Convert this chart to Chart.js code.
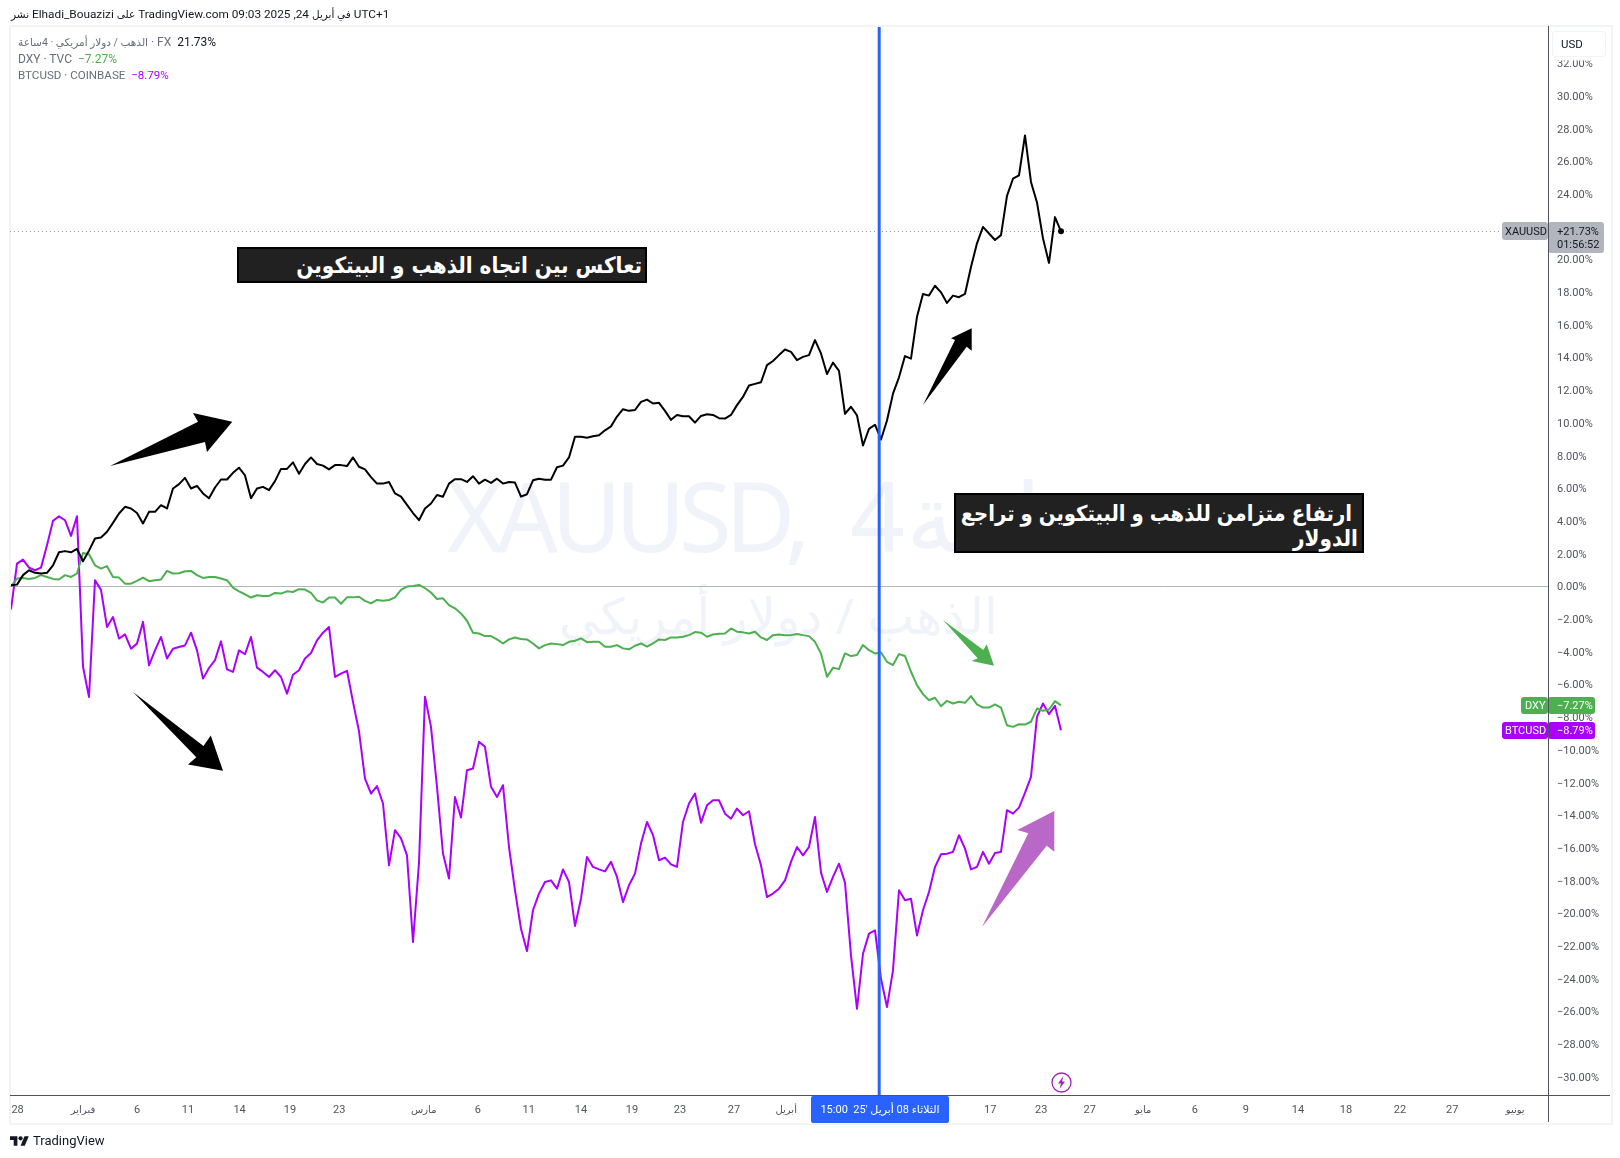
<!DOCTYPE html>
<html lang="ar">
<head>
<meta charset="utf-8">
<title>XAUUSD DXY BTCUSD</title>
<script src="https://cdn.jsdelivr.net/npm/chart.js@4/dist/chart.umd.min.js"></script>
<style>
html,body{margin:0;padding:0;background:#fff;width:1620px;height:1158px;overflow:hidden}
body{font-family:Roboto,"DejaVu Sans",sans-serif}
#wrap{position:relative;width:1620px;height:1158px}
#panel{position:absolute;left:9px;top:25px;width:1600px;height:1096px;border:2px solid #f2f3f5;box-sizing:content-box}
canvas{position:absolute;left:0;top:0}
.t{position:absolute;white-space:pre;line-height:1}
.ar{font-size:10.5px}
.box{position:absolute;background:#212121;border:2px solid #000;box-sizing:border-box;color:#fff;font:bold 22.3px "DejaVu Sans Condensed","DejaVu Sans",sans-serif;direction:rtl;text-align:right;white-space:pre}
</style>
</head>
<body>
<div id="wrap">
<div id="panel"></div>
<canvas id="c" width="1620" height="1158"></canvas>

<div class="t" style="left:11px;top:9px;font-size:11.8px;color:#131722"><span class="ar">نشر</span> Elhadi_Bouazizi <span class="ar">على</span> TradingView.com 09:03 2025 ,24 <span class="ar">في أبريل</span> UTC+1</div>

<div class="t" style="left:18px;top:36px;font-size:12px;color:#6a6d78"><span class="ar">الذهب / دولار أمريكي · 4ساعة</span> · FX  <span style="color:#131722">21.73%</span></div>
<div class="t" style="left:18px;top:53px;font-size:12px;color:#6a6d78">DXY · TVC  <span style="color:#4caf50">−7.27%</span></div>
<div class="t" style="left:18px;top:70px;font-size:11.6px;color:#6a6d78">BTCUSD · COINBASE  <span style="color:#aa00ff">−8.79%</span></div>

<div class="box" style="left:237px;top:247px;width:410px;height:36px;line-height:33px;padding-right:3px">تعاكس بين اتجاه الذهب و البيتكوين</div>
<div class="box" style="left:954px;top:493px;width:410px;height:60px;line-height:25px;padding:6px 4px 0 0"><span style="font-size:21.8px;word-spacing:-0.8px">&nbsp;ارتفاع متزامن للذهب و البيتكوين و تراجع</span>
الدولار</div>

<svg style="position:absolute;left:10px;top:1134px" width="19" height="15" viewBox="0 0 36 28"><path fill="#131722" d="M14 22H7V11H0V4h14v18zM28 22h-8l7.5-18h8L28 22z"/><circle fill="#131722" cx="20" cy="8" r="4"/></svg>
<div class="t" style="left:33px;top:1134px;font-size:13px;color:#131722">TradingView</div>
</div>
<script>
const gold = [0.08,0.12,0.7,1.0,0.84,0.8,0.84,1.3,2.1,2.17,2.1,2.3,1.55,2.2,2.94,3.0,3.35,3.9,4.47,4.88,4.78,4.5,3.86,4.57,4.57,4.98,4.78,6.0,6.27,6.65,6.0,6.16,5.7,5.4,6.06,6.55,6.55,6.96,7.27,6.8,5.4,6.0,6.1,5.9,6.45,7.2,7.2,7.6,6.9,7.5,7.9,7.5,7.4,7.17,7.43,7.43,7.37,7.9,7.33,7.17,6.7,6.3,6.3,6.4,5.7,5.5,5.0,4.5,4.06,4.78,5.08,5.6,5.5,6.3,6.57,6.57,6.4,6.75,6.3,6.54,6.34,6.6,6.3,6.4,6.36,5.5,5.65,6.5,6.6,6.54,6.54,7.3,7.4,7.9,9.16,9.16,9.1,9.2,9.26,9.56,9.8,10.4,10.85,10.75,10.8,11.3,11.44,11.2,11.24,10.75,10.2,10.5,10.42,10.42,10.03,10.44,10.54,10.5,10.3,10.28,10.5,11.1,11.6,12.3,12.4,12.5,13.55,13.8,14.16,14.5,14.36,13.85,14.05,14.16,15.08,14.26,13.0,13.7,13.2,10.57,11.0,10.47,8.63,9.65,9.9,9.0,10.16,11.8,12.8,14.1,13.94,16.5,17.9,17.8,18.4,18.0,17.35,17.8,17.7,17.9,19.55,21.0,22.0,21.6,21.2,21.5,23.9,24.95,25.16,27.6,24.75,23.5,21.3,19.8,22.6,21.73];
const dxy = [0.02,0.49,0.53,0.47,0.53,0.7,0.59,0.47,0.43,0.7,0.59,0.8,2.06,1.98,1.3,1.1,1.25,0.59,0.55,0.18,0.18,0.35,0.55,0.33,0.39,0.43,0.96,0.8,0.82,0.94,0.96,0.7,0.53,0.59,0.59,0.49,0.39,-0.06,-0.29,-0.47,-0.67,-0.53,-0.57,-0.57,-0.39,-0.43,-0.29,-0.33,-0.16,-0.18,-0.39,-0.84,-0.98,-0.67,-0.67,-1.05,-0.66,-0.66,-0.62,-0.87,-1.03,-0.82,-0.87,-0.82,-0.66,-0.2,0.0,0.03,0.1,-0.1,-0.36,-0.76,-0.72,-1.13,-1.33,-1.64,-2.09,-2.82,-2.87,-3.03,-3.03,-3.23,-3.48,-3.23,-3.11,-3.21,-3.23,-3.48,-3.78,-3.58,-3.48,-3.52,-3.58,-3.38,-3.31,-3.17,-3.4,-3.38,-3.38,-3.68,-3.68,-3.58,-3.78,-3.84,-3.62,-3.48,-3.68,-3.48,-3.23,-3.27,-3.11,-3.11,-3.07,-2.97,-2.78,-2.82,-3.07,-2.93,-2.89,-2.87,-2.56,-2.76,-2.8,-2.87,-2.76,-3.11,-3.27,-2.97,-2.93,-2.97,-2.97,-2.9,-2.97,-3.03,-3.38,-4.09,-5.52,-4.97,-5.05,-4.09,-4.25,-4.19,-3.58,-3.89,-4.09,-4.03,-4.6,-4.8,-4.13,-4.25,-5.21,-6.03,-6.58,-6.95,-6.8,-7.32,-6.99,-7.15,-7.05,-7.11,-6.7,-7.21,-7.4,-7.4,-7.21,-7.4,-8.48,-8.58,-8.42,-8.44,-8.27,-7.46,-7.6,-7.52,-7.01,-7.27];
const btc = [-1.4,1.4,1.65,1.16,1.0,1.16,2.53,4.02,4.3,4.06,3.1,4.3,-4.9,-6.76,0.39,-0.2,-2.47,-1.86,-3.18,-2.92,-3.8,-3.49,-2.16,-4.82,-3.9,-3.08,-4.4,-3.8,-3.7,-3.6,-2.82,-3.9,-5.63,-4.98,-4.5,-3.35,-5.06,-5.22,-3.9,-4.14,-3.08,-4.96,-5.22,-5.53,-5.12,-5.53,-6.55,-5.39,-5.12,-4.4,-4.06,-3.29,-2.82,-2.47,-5.53,-5.33,-5.15,-7.05,-8.85,-11.74,-12.66,-12.2,-13.27,-17.05,-14.9,-15.4,-16.44,-21.74,-16.9,-6.74,-8.58,-12.25,-16.33,-17.86,-12.87,-14.13,-11.23,-11.13,-9.5,-9.8,-12.25,-12.87,-12.15,-15.93,-18.58,-20.93,-22.3,-19.8,-18.78,-18.07,-17.97,-18.48,-17.3,-18.07,-20.76,-19.09,-16.54,-17.15,-17.3,-17.42,-16.84,-17.76,-19.3,-18.27,-17.56,-15.72,-14.4,-15.2,-16.74,-16.58,-16.99,-17.15,-14.4,-13.27,-12.66,-14.44,-13.38,-13.07,-13.07,-13.89,-14.2,-13.58,-13.99,-13.74,-15.76,-17.05,-18.99,-18.78,-18.48,-17.97,-16.84,-15.93,-16.44,-15.93,-14.09,-17.5,-18.68,-17.76,-16.95,-18.11,-22.56,-25.83,-22.46,-21.23,-21.03,-23.99,-25.72,-23.48,-18.58,-19.19,-19.09,-21.34,-19.8,-18.68,-17.15,-16.38,-16.34,-16.23,-15.21,-16.03,-17.3,-17.15,-16.23,-16.95,-16.3,-16.23,-13.68,-13.89,-13.52,-12.62,-11.64,-7.97,-7.15,-7.8,-7.3,-8.79];
const yTicks = [32,30,28,26,24,22,20,18,16,14,12,10,8,6,4,2,0,-2,-4,-6,-8,-10,-12,-14,-16,-18,-20,-22,-24,-26,-28,-30];
const xTickBars = [1.1,12,21,29.5,38.1,46.5,54.7,68.8,77.8,86.3,95,103.5,111.5,120.5,129.2,163.2,171.7,179.8,188.7,197.3,205.8,214.5,222.5,231.5,240.2,250.7];
const xTickLabels = ["28","فبراير","6","11","14","19","23","مارس","6","11","14","19","23","27","أبريل","17","23","27","مايو","6","9","14","18","22","27","يونيو"];
const crosshairBar = 144.7;
const crosshairLabel = "الثلاثاء 08 أبريل '25  15:00";
const seriesColors = {gold:"#000000", dxy:"#4caf50", btc:"#aa00ff"};
const lastGold = 21.73, lastDxy = -7.27, lastBtc = -8.79;

const pts = a => a.map((v,i)=>({x:i,y:v}));

function rr(ctx,x,y,w,h,r,fill){ctx.beginPath();ctx.roundRect(x,y,w,h,r);ctx.fillStyle=fill;ctx.fill();}
function poly(ctx,p,fill){ctx.beginPath();p.forEach((q,i)=>i?ctx.lineTo(q[0],q[1]):ctx.moveTo(q[0],q[1]));ctx.closePath();ctx.fillStyle=fill;ctx.fill();}

const under = {id:'under',
 beforeDraw(ch){ ch.scales.y.getLabelItems(ch.chartArea).forEach(it=>{it.textOffset+=1;}); },
 beforeDatasetsDraw(ch){
  const c=ch.ctx,a=ch.chartArea,y=ch.scales.y;
  c.save();
  c.fillStyle='#f0f3fa';c.textBaseline='alphabetic';
  c.textAlign='left';
  c.font='96px "Noto Sans","DejaVu Sans",sans-serif';
  c.letterSpacing='-6.5px';
  c.fillText('XAUUSD,',447,552);
  c.letterSpacing='0px';
  c.fillText('4',850,552);
  c.fillText('ساعة',906,552);
  c.textAlign='center';
  c.font='50px "Noto Sans","DejaVu Sans",sans-serif';
  c.fillText('الذهب / دولار أمريكي',(a.left+a.right)/2-1,634);
  const y0=Math.floor(y.getPixelForValue(0))+.5;
  c.strokeStyle='#b2b5be';c.lineWidth=1;c.beginPath();c.moveTo(a.left-1,y0);c.lineTo(a.right,y0);c.stroke();
  const yl=Math.floor(y.getPixelForValue(lastGold))+.5;
  c.strokeStyle='#9598a1';c.setLineDash([1,3]);c.beginPath();c.moveTo(a.left-1,yl);c.lineTo(a.right,yl);c.stroke();
  c.restore();
}};

const over = {id:'over',afterDraw(ch){
  const c=ch.ctx,a=ch.chartArea,x=ch.scales.x,y=ch.scales.y;
  c.save();
  // annotation arrows
  poly(c,[[110,466],[198,421.7],[193,413],[232.3,421.7],[207,452],[205,442]],'#000');
  poly(c,[[923,405],[955,340],[951,338.3],[971.7,328.3],[971.7,350.7],[966.7,346.7]],'#000');
  poly(c,[[133,692],[203.5,746],[210.8,735.6],[223,770.8],[188,764.6],[196.3,757.3]],'#000');
  poly(c,[[943,620],[983.3,650],[986.7,644.3],[994,665.7],[971.7,661],[977.7,658.3]],'#4caf50');
  poly(c,[[982,927],[1028.3,833.3],[1017.3,830],[1054.3,811],[1054.3,851.7],[1046.7,845.7]],'#ba68c8');
  // last point of main series
  c.fillStyle='#000';c.beginPath();c.arc(x.getPixelForValue(gold.length-1),y.getPixelForValue(lastGold),3,0,7);c.fill();
  // crosshair
  const bx=x.getPixelForValue(crosshairBar);
  c.fillStyle='#2962ff';c.fillRect(bx-1.5,a.top,3,a.bottom-a.top);
  // axis lines
  c.fillStyle='#50535e';
  c.fillRect(a.left-1,a.bottom,1600,1);
  c.fillRect(a.right,a.top-1,1,1096);
  // USD button
  c.fillStyle='#fff';c.fillRect(1550,28,59,32.5);
  rr(c,1552,31,54,26,4,'#f0f3fa');rr(c,1553,32,52,24,3,'#fff');
  c.fillStyle='#131722';c.font='11.5px Roboto,sans-serif';c.textAlign='left';c.textBaseline='middle';c.fillText('USD',1561,45);
  // price tags
  const tag=(x0,y0,w,h,col)=>rr(c,x0,y0,w,h,3,col);
  tag(1502,222,46,18,'#b2b5be');tag(1548,222,56,31,'#b2b5be');
  tag(1521,697,27,17,'#4caf50');tag(1548,697,47,17,'#4caf50');
  tag(1502,722,46,17,'#aa00ff');tag(1548,722,47,17,'#aa00ff');
  c.fillStyle='#50535e';c.fillRect(a.right,221,1,33);c.fillRect(a.right,696,1,44);
  c.font='11px Roboto,sans-serif';c.textAlign='left';c.textBaseline='middle';
  c.fillStyle='#131722';c.fillText('XAUUSD',1505,232);c.fillText('+21.73%',1557,232);c.fillText('01:56:52',1557,245);
  c.fillStyle='#fff';c.fillText('DXY',1525,706);c.fillText('−7.27%',1557,706);
  c.fillText('BTCUSD',1505,731);c.fillText('−8.79%',1557,731);
  // crosshair time label
  rr(c,811,1096,138,27,2,'#2962ff');
  c.fillStyle='#fff';c.font='11px Roboto,"DejaVu Sans",sans-serif';c.textAlign='center';c.direction='rtl';
  c.fillText(crosshairLabel,880,1110);c.direction='ltr';
  // lightning badge
  c.strokeStyle='#9c27b0';c.lineWidth=1.3;c.beginPath();c.arc(1061.5,1082.5,9.5,0,7);c.stroke();
  poly(c,[[1063.5,1076],[1058,1083.5],[1061,1083.5],[1059.5,1089],[1065,1081.5],[1062,1081.5]],'#9c27b0');
  c.restore();
}};

const lineStyle = {borderWidth:2,pointRadius:0,tension:0,borderJoinStyle:'round'};
new Chart(document.getElementById('c'),{
  type:'line',
  data:{datasets:[
    {label:'XAUUSD',data:pts(gold),borderColor:seriesColors.gold,...lineStyle},
    {label:'DXY',data:pts(dxy),borderColor:seriesColors.dxy,...lineStyle},
    {label:'BTCUSD',data:pts(btc),borderColor:seriesColors.btc,...lineStyle}
  ]},
  plugins:[under,over],
  options:{
    responsive:false,animation:false,devicePixelRatio:1,
    layout:{padding:{left:11,top:27,right:0,bottom:0}},
    plugins:{legend:{display:false},tooltip:{enabled:false}},
    scales:{
      x:{type:'linear',min:0,max:256.17,
        grid:{display:false},border:{display:false},
        afterFit(s){s.height=63;},
        afterBuildTicks(s){s.ticks=xTickBars.map(v=>({value:v}));},
        ticks:{autoSkip:false,maxRotation:0,padding:1,color:'#50535e',
          font:ctx=>({family:'Roboto,"DejaVu Sans",sans-serif',size:/[0-9]/.test(xTickLabels[ctx.index]||'0')?11:10}),
          callback:(v,i)=>xTickLabels[i]}},
      y:{type:'linear',position:'right',min:-31.1,max:34.23,
        grid:{display:false},border:{display:false},
        afterFit(s){s.width=72;},
        afterBuildTicks(s){s.ticks=yTicks.map(v=>({value:v}));},
        ticks:{autoSkip:false,padding:1,color:'#50535e',font:{family:'Roboto,sans-serif',size:11},
          callback:v=>(v<0?'−':'')+Math.abs(v).toFixed(2)+'%'}}
    }
  }
});
</script>
</body>
</html>
